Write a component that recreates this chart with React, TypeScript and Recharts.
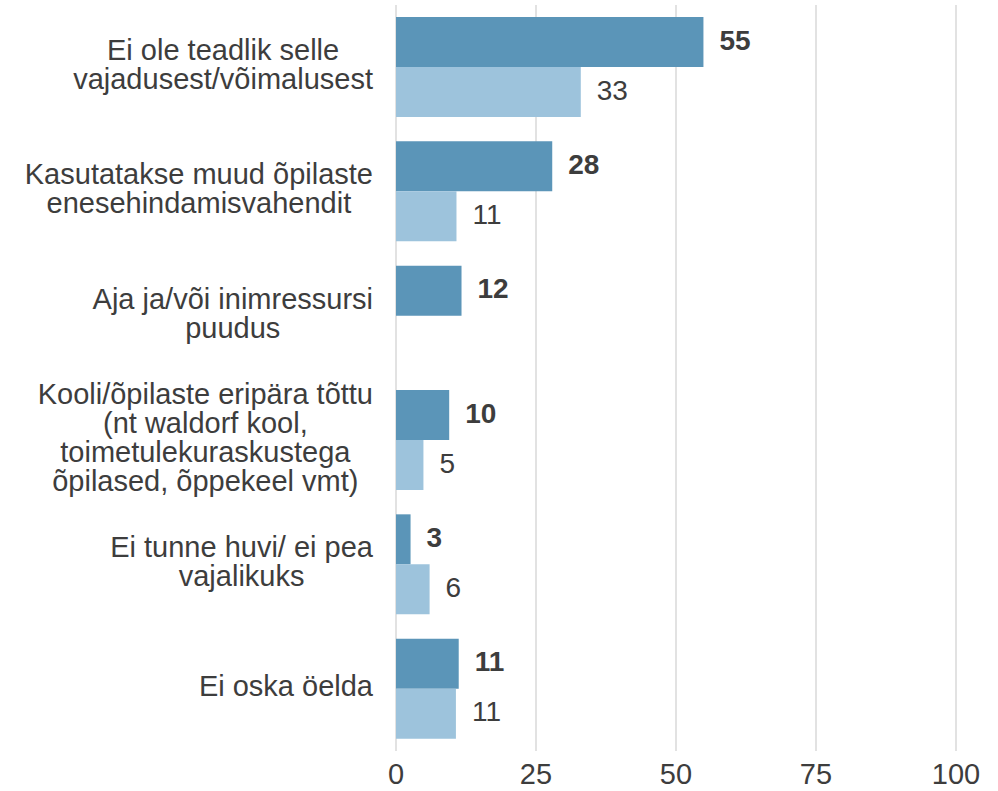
import React from "react";
import { BarChart, Bar, XAxis, YAxis, CartesianGrid, LabelList } from "recharts";

const categories = [
  "Ei ole teadlik selle\nvajadusest/võimalusest",
  "Kasutatakse muud õpilaste\nenesehindamisvahendit",
  "Aja ja/või inimressursi\npuudus",
  "Kooli/õpilaste eripära tõttu\n(nt waldorf kool,\ntoimetulekuraskustega\nõpilased, õppekeel vmt)",
  "Ei tunne huvi/ ei pea\nvajalikuks",
  "Ei oska öelda",
];
const seriesDark = [54.9, 27.9, 11.7, 9.5, 2.6, 11.2];
const seriesLight: (number | null)[] = [33.0, 10.8, null, 4.9, 6.0, 10.7];
const xTicks = [0, 25, 50, 75, 100];

const data = categories.map((name, i) => ({
  name,
  dark: seriesDark[i],
  light: seriesLight[i],
}));

const FONT = "'Liberation Sans', Arial, Helvetica, sans-serif";
const TEXT = "#3d3d3d";
const DARK = "#5b95b8";
const LIGHT = "#9dc3dc";
const LABEL_SIZE = 29;

let measureCtx: CanvasRenderingContext2D | null = null;
function textWidth(s: string): number {
  if (!measureCtx) {
    const c = document.createElement("canvas");
    measureCtx = c.getContext("2d");
  }
  if (!measureCtx) return s.length * LABEL_SIZE * 0.5;
  measureCtx.font = `${LABEL_SIZE}px ${FONT}`;
  return measureCtx.measureText(s).width;
}

const CategoryTick = (props: any) => {
  const { x, y, payload } = props;
  const lines: string[] = String(payload.value).split("\n");
  const maxW = Math.max(...lines.map(textWidth));
  const right = x - 23;
  const cx = right - maxW / 2;
  const lh = 29;
  const n = lines.length;
  return (
    <g>
      {lines.map((ln, i) => (
        <text
          key={i}
          x={cx}
          y={y + (i - (n - 1) / 2) * lh + 10.4 - 3}
          textAnchor="middle"
          fontFamily={FONT}
          fontSize={LABEL_SIZE}
          fill={TEXT}
        >
          {ln}
        </text>
      ))}
    </g>
  );
};

const ValueTick = (props: any) => {
  const { x, y, payload } = props;
  return (
    <text
      x={x}
      y={y + 33}
      textAnchor="middle"
      fontFamily={FONT}
      fontSize={29}
      fill={TEXT}
    >
      {payload.value}
    </text>
  );
};

const makeLabel = (bold: boolean) => (props: any) => {
  const { x, y, width, height, value } = props;
  if (value === null || value === undefined) return null;
  return (
    <text
      x={x + width + 16}
      y={y + height / 2 + 7.5}
      textAnchor="start"
      fontFamily={FONT}
      fontSize={28}
      fontWeight={bold ? "bold" : "normal"}
      fill={TEXT}
    >
      {Math.round(value)}
    </text>
  );
};

export default function App() {
  return (
    <div style={{ position: "absolute", left: 0, top: 0, background: "#fff" }}>
      <BarChart
        width={998}
        height={791}
        data={data}
        layout="vertical"
        margin={{ top: 5, right: 42, bottom: 0, left: 0 }}
        barGap={0}
        barSize={50}
      >
        <CartesianGrid horizontal={false} stroke="#e2e2e2" strokeWidth={2} />
        <XAxis
          type="number"
          domain={[0, 100]}
          ticks={xTicks}
          axisLine={false}
          tickLine={false}
          tickSize={0}
          tickMargin={0}
          height={40}
          tick={<ValueTick />}
          interval={0}
        />
        <YAxis
          type="category"
          dataKey="name"
          width={396}
          axisLine={false}
          tickLine={false}
          tickSize={0}
          tickMargin={0}
          tick={<CategoryTick />}
          interval={0}
        />
        <Bar dataKey="dark" fill={DARK} isAnimationActive={false}>
          <LabelList dataKey="dark" content={makeLabel(true)} />
        </Bar>
        <Bar dataKey="light" fill={LIGHT} isAnimationActive={false}>
          <LabelList dataKey="light" content={makeLabel(false)} />
        </Bar>
      </BarChart>
    </div>
  );
}
